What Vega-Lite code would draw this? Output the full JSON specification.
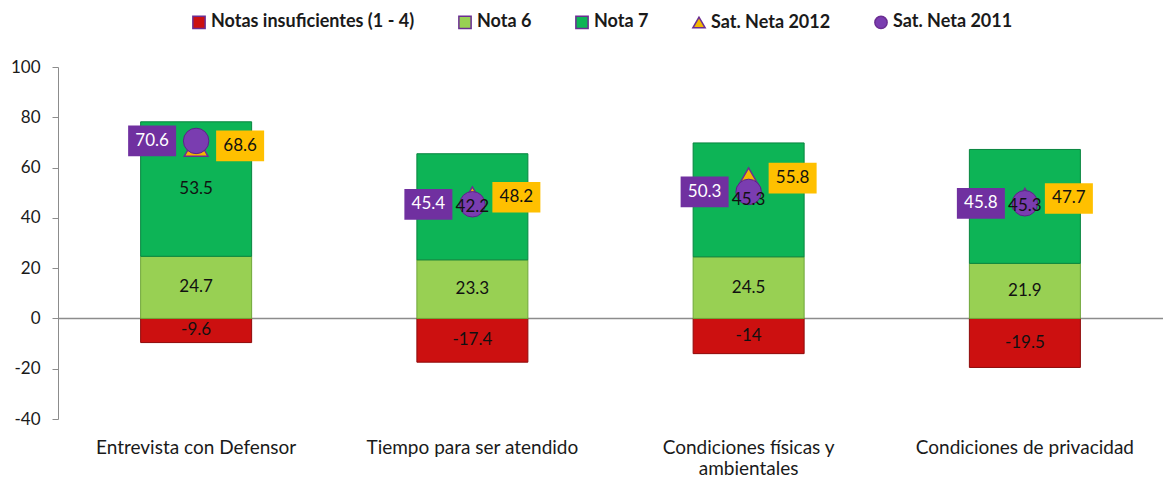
{
  "$schema": "https://vega.github.io/schema/vega-lite/v6.json",
  "autosize": {"type": "none"},
  "padding": {"left": 58, "top": 67, "right": 0, "bottom": 64},
  "width": 1105,
  "height": 352,
  "config": {
    "font": "Lato",
    "view": {"stroke": null},
    "legend": {"labelFont": "Lato", "labelFontSize": 18, "labelFontWeight": "bold", "labelColor": "#1a1a1a", "labelLimit": 0}
  },
  "data": {"values": [
    {"cat": "Entrevista con Defensor", "serie": "Notas insuficientes (1 - 4)", "kind": "bar", "value": -9.6},
    {"cat": "Entrevista con Defensor", "serie": "Nota 6", "kind": "bar", "value": 24.7},
    {"cat": "Entrevista con Defensor", "serie": "Nota 7", "kind": "bar", "value": 53.5},
    {"cat": "Tiempo para ser atendido", "serie": "Notas insuficientes (1 - 4)", "kind": "bar", "value": -17.4},
    {"cat": "Tiempo para ser atendido", "serie": "Nota 6", "kind": "bar", "value": 23.3},
    {"cat": "Tiempo para ser atendido", "serie": "Nota 7", "kind": "bar", "value": 42.2},
    {"cat": "Condiciones físicas y ambientales", "serie": "Notas insuficientes (1 - 4)", "kind": "bar", "value": -14},
    {"cat": "Condiciones físicas y ambientales", "serie": "Nota 6", "kind": "bar", "value": 24.5},
    {"cat": "Condiciones físicas y ambientales", "serie": "Nota 7", "kind": "bar", "value": 45.3},
    {"cat": "Condiciones de privacidad", "serie": "Notas insuficientes (1 - 4)", "kind": "bar", "value": -19.5},
    {"cat": "Condiciones de privacidad", "serie": "Nota 6", "kind": "bar", "value": 21.9},
    {"cat": "Condiciones de privacidad", "serie": "Nota 7", "kind": "bar", "value": 45.3},
    {"cat": "Entrevista con Defensor", "serie": "Sat. Neta 2012", "kind": "p12", "value": 68.6},
    {"cat": "Tiempo para ser atendido", "serie": "Sat. Neta 2012", "kind": "p12", "value": 48.2},
    {"cat": "Condiciones físicas y ambientales", "serie": "Sat. Neta 2012", "kind": "p12", "value": 55.8},
    {"cat": "Condiciones de privacidad", "serie": "Sat. Neta 2012", "kind": "p12", "value": 47.7},
    {"cat": "Entrevista con Defensor", "serie": "Sat. Neta 2011", "kind": "p11", "value": 70.6},
    {"cat": "Tiempo para ser atendido", "serie": "Sat. Neta 2011", "kind": "p11", "value": 45.4},
    {"cat": "Condiciones físicas y ambientales", "serie": "Sat. Neta 2011", "kind": "p11", "value": 50.3},
    {"cat": "Condiciones de privacidad", "serie": "Sat. Neta 2011", "kind": "p11", "value": 45.8}
  ]},
  "encoding": {
    "x": {
      "field": "cat", "type": "nominal", "sort": null,
      "scale": {"paddingInner": 0, "paddingOuter": 0},
      "axis": {
        "title": null, "domain": false, "ticks": false, "labelAngle": 0,
        "labelPadding": 19, "labelFontSize": 19, "labelColor": "#1a1a1a", "labelLimit": 0,
        "labelExpr": "datum.label == 'Condiciones físicas y ambientales' ? ['Condiciones físicas y', 'ambientales'] : datum.label"
      }
    }
  },
  "layer": [
    {
      "data": {"values": [{"zero": 0}]},
      "mark": {"type": "rule", "color": "#8c8c8c", "strokeWidth": 1.5},
      "encoding": {"x": null, "y": {"field": "zero", "type": "quantitative"}}
    },
    {
      "transform": [{"filter": "datum.kind == 'bar'"}],
      "mark": {"type": "bar", "size": 111, "strokeWidth": 1},
      "encoding": {
        "y": {
          "field": "value", "type": "quantitative", "stack": "zero",
          "scale": {"domain": [-40, 100], "nice": false, "zero": false},
          "axis": {
            "title": null, "values": [-40, -20, 0, 20, 40, 60, 80, 100], "grid": false,
            "labelFontSize": 17, "labelColor": "#1a1a1a", "labelPadding": 12,
            "tickColor": "#8c8c8c", "domainColor": "#8c8c8c", "tickSize": 6,
            "labelExpr": "datum.value + ''"
          }
        },
        "order": {"field": "serie", "type": "nominal", "sort": "ascending"},
        "color": {
          "field": "serie", "type": "nominal",
          "scale": {
            "domain": ["Notas insuficientes (1 - 4)", "Nota 6", "Nota 7", "Sat. Neta 2012", "Sat. Neta 2011"],
            "range": ["#CC1010", "#98D053", "#0DB456", "#F2B800", "#7A3DB0"]
          },
          "legend": {
            "title": null, "orient": "none", "direction": "horizontal",
            "legendX": 132, "legendY": -54, "columnPadding": 40, "symbolSize": 150,
            "labelOffset": 3
          }
        },
        "stroke": {
          "field": "serie", "type": "nominal", "legend": null,
          "scale": {"domain": ["Notas insuficientes (1 - 4)", "Nota 6", "Nota 7"], "range": ["#8E0A0A", "#6FA63A", "#07853F"]}
        }
      }
    },
    {
      "transform": [{"filter": "datum.kind == 'p12'"}],
      "mark": {"type": "point", "filled": true, "size": 560, "stroke": "#6B2D92", "strokeWidth": 1.5, "opacity": 1},
      "encoding": {
        "y": {"field": "value", "type": "quantitative"},
        "color": {"field": "serie", "type": "nominal"},
        "shape": {
          "field": "serie", "type": "nominal",
          "scale": {
            "domain": ["Notas insuficientes (1 - 4)", "Nota 6", "Nota 7", "Sat. Neta 2012", "Sat. Neta 2011"],
            "range": ["square", "square", "square", "triangle-up", "circle"]
          }
        }
      }
    },
    {
      "transform": [{"filter": "datum.kind == 'p11'"}],
      "mark": {"type": "point", "filled": true, "size": 650, "stroke": "#5B2388", "strokeWidth": 1, "opacity": 1},
      "encoding": {
        "y": {"field": "value", "type": "quantitative"},
        "color": {"field": "serie", "type": "nominal"},
        "shape": {"field": "serie", "type": "nominal"}
      }
    },
    {
      "transform": [{"filter": "datum.kind == 'bar'"}],
      "mark": {"type": "text", "color": "#111", "fontSize": 17},
      "encoding": {
        "y": {"field": "value", "type": "quantitative", "stack": "zero", "bandPosition": 0.5},
        "order": {"field": "serie", "type": "nominal", "sort": "ascending"},
        "detail": {"field": "serie", "type": "nominal"},
        "text": {"field": "value", "type": "nominal"}
      }
    },
    {
      "transform": [{"filter": "datum.kind == 'p11'"}],
      "mark": {"type": "point", "filled": true, "shape": "M-1,-0.64H1V0.64H-1Z", "size": 2304, "xOffset": -44, "color": "#7030A0", "opacity": 1},
      "encoding": {"y": {"field": "value", "type": "quantitative"}}
    },
    {
      "transform": [{"filter": "datum.kind == 'p11'"}],
      "mark": {"type": "text", "xOffset": -44, "color": "white", "fontSize": 17},
      "encoding": {"y": {"field": "value", "type": "quantitative"}, "text": {"field": "value", "type": "nominal"}}
    },
    {
      "transform": [{"filter": "datum.kind == 'p12'"}],
      "mark": {"type": "point", "filled": true, "shape": "M-1,-0.64H1V0.64H-1Z", "size": 2304, "xOffset": 44, "color": "#FFC000", "opacity": 1},
      "encoding": {"y": {"field": "value", "type": "quantitative"}}
    },
    {
      "transform": [{"filter": "datum.kind == 'p12'"}],
      "mark": {"type": "text", "xOffset": 44, "color": "#111", "fontSize": 17},
      "encoding": {"y": {"field": "value", "type": "quantitative"}, "text": {"field": "value", "type": "nominal"}}
    }
  ]
}
